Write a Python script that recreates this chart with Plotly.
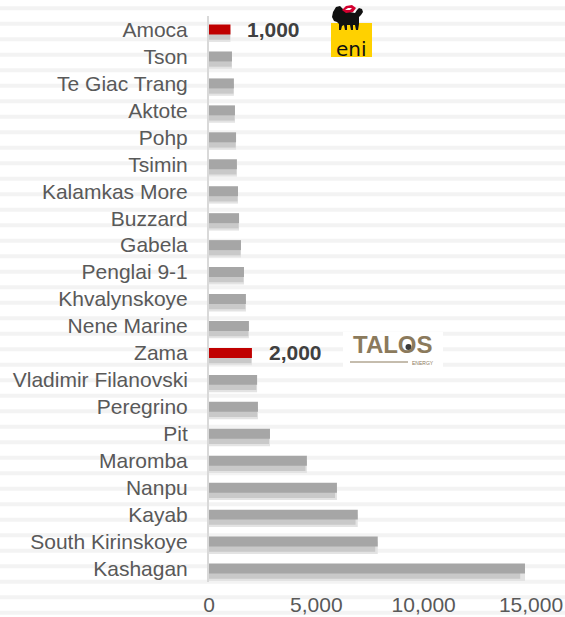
import plotly.graph_objects as go

fields = ["Amoca", "Tson", "Te Giac Trang", "Aktote", "Pohp", "Tsimin",
          "Kalamkas More", "Buzzard", "Gabela", "Penglai 9-1", "Khvalynskoye",
          "Nene Marine", "Zama", "Vladimir Filanovski", "Peregrino", "Pit",
          "Maromba", "Nanpu", "Kayab", "South Kirinskoye", "Kashagan"]
reserves = [1000, 1070, 1160, 1210, 1260, 1300, 1350, 1400, 1490, 1630, 1720,
            1860, 2000, 2240, 2280, 2840, 4560, 5960, 6930, 7860, 14720]
highlight = ["Amoca", "Zama"]
x_ticks = [0, 5000, 10000, 15000]
x_tick_labels = ["0", "5,000", "10,000", "15,000"]

GREY = "#a6a6a6"
RED = "#c00000"
FONT = "Liberation Sans, Arial, sans-serif"

# plot area in pixels
L, R, T, B = 209, 34, 16, 35
W, H = 565, 617
PW, PH = W - L - R, H - T - B


def px(x):
    return (x - L) / PW


def py(y):
    return (H - B - y) / PH


def poly(points):
    return "M " + " L ".join(f"{px(a)},{py(b)}" for a, b in points) + " Z"


colors = [RED if f in highlight else GREY for f in fields]

fig = go.Figure()
# soft shadow layers
fig.add_trace(go.Bar(y=fields, x=reserves, orientation="h", width=0.46, offset=0.0,
                     marker=dict(color="#e3e3e3", line=dict(width=0)),
                     hoverinfo="skip", showlegend=False))
fig.add_trace(go.Bar(y=fields, x=[v * 0.985 for v in reserves], orientation="h",
                     width=0.36, offset=0.02,
                     marker=dict(color="#c9c9c9", line=dict(width=0)),
                     hoverinfo="skip", showlegend=False))
# main bars
fig.add_trace(go.Bar(y=fields, x=reserves, orientation="h", width=0.37, offset=-0.185,
                     marker=dict(color=colors, line=dict(width=0)),
                     showlegend=False))

annotations = []
for f, v in zip(fields, reserves):
    if f in highlight:
        annotations.append(dict(x=v, y=f, xref="x", yref="y", text=f"{v:,}",
                                showarrow=False, xanchor="left", xshift=15,
                                font=dict(family=FONT, size=21, color="#404040",
                                          weight="bold")))

shapes = []
# faint background stripes
k = 0
while True:
    yy = 8.3 + 15.5 * k
    if yy > H:
        break
    shapes.append(dict(type="rect", xref="paper", yref="paper",
                       x0=px(0), x1=px(W), y0=py(yy + 2), y1=py(yy - 2),
                       fillcolor="#f3f3f3", line=dict(width=0), layer="below"))
    k += 1

# eni logo (approximation)
shapes.append(dict(type="rect", xref="paper", yref="paper", x0=px(331), x1=px(372),
                   y0=py(57), y1=py(23), fillcolor="#ffd100", line=dict(width=0),
                   layer="above"))
dog = [(333, 12), (336, 7), (340, 6), (343, 9), (350, 12), (355, 13), (357, 10),
       (359, 8), (362, 9), (363, 12), (361, 15), (359, 17), (359, 24), (358, 30),
       (356, 30), (355, 25), (353, 25), (353, 30), (351, 30), (350, 25), (347, 25),
       (347, 30), (345, 30), (344, 25), (342, 26), (341, 30), (339, 30), (339, 24),
       (337, 22), (334, 21), (332, 17)]
shapes.append(dict(type="path", xref="paper", yref="paper", path=poly(dog),
                   fillcolor="#111111", line=dict(width=0), layer="above"))
flame = [(342, 10), (346, 6), (352, 5), (356, 8), (353, 12), (346, 13)]
shapes.append(dict(type="path", xref="paper", yref="paper", path=poly(flame),
                   fillcolor="#d4002f", line=dict(width=0), layer="above"))
flame_in = [(345, 10), (348, 8), (352, 8), (350, 10)]
shapes.append(dict(type="path", xref="paper", yref="paper", path=poly(flame_in),
                   fillcolor="white", line=dict(width=0), layer="above"))
annotations.append(dict(x=px(351), y=py(49), xref="paper", yref="paper", text="eni",
                        showarrow=False, font=dict(family="DejaVu Sans", size=20,
                                                   color="#111111"),
                        xanchor="center", yanchor="middle"))

# Talos logo (approximation)
shapes.append(dict(type="rect", xref="paper", yref="paper", x0=px(343), x1=px(443),
                   y0=py(368), y1=py(332), fillcolor="white", line=dict(width=0),
                   layer="above"))
annotations.append(dict(x=px(393), y=py(344), xref="paper", yref="paper", text="TALOS",
                        showarrow=False, font=dict(family=FONT, size=24,
                                                   color="#8b7a5c", weight="bold"),
                        xanchor="center", yanchor="middle"))
shapes.append(dict(type="circle", xref="paper", yref="paper", x0=px(405.5),
                   x1=px(411.5), y0=py(350), y1=py(344), fillcolor="#3a3a3a",
                   line=dict(width=0), layer="above"))
shapes.append(dict(type="line", xref="paper", yref="paper", x0=px(350), x1=px(408),
                   y0=py(362), y1=py(362), line=dict(color="#8b7a5c", width=1),
                   layer="above"))
annotations.append(dict(x=px(423), y=py(363), xref="paper", yref="paper",
                        text="ENERGY", showarrow=False,
                        font=dict(family=FONT, size=5, color="#8b7a5c"),
                        xanchor="center", yanchor="middle"))

fig.update_layout(
    width=W, height=H,
    margin=dict(l=L, r=R, t=T, b=B, pad=0, autoexpand=False),
    barmode="overlay",
    paper_bgcolor="white",
    plot_bgcolor="rgba(0,0,0,0)",
    font=dict(family=FONT, size=21, color="#595959"),
    xaxis=dict(range=[0, 15000], tickvals=x_ticks, ticktext=x_tick_labels,
               showgrid=False, zeroline=False, showline=False, ticks="",
               automargin=False,
               ticklabelstandoff=8, tickfont=dict(size=21, color="#595959")),
    yaxis=dict(categoryorder="array", categoryarray=fields, autorange="reversed",
               showgrid=False, zeroline=False, showline=True, linecolor="#d9d9d9",
               linewidth=2, ticks="", ticklabelstandoff=15, automargin=False,
               tickfont=dict(size=21, color="#595959")),
    shapes=shapes,
    annotations=annotations,
)

fig.write_html("out.html", config={"displayModeBar": False},
               post_script="document.body.style.margin='0';document.body.style.padding='0';")
